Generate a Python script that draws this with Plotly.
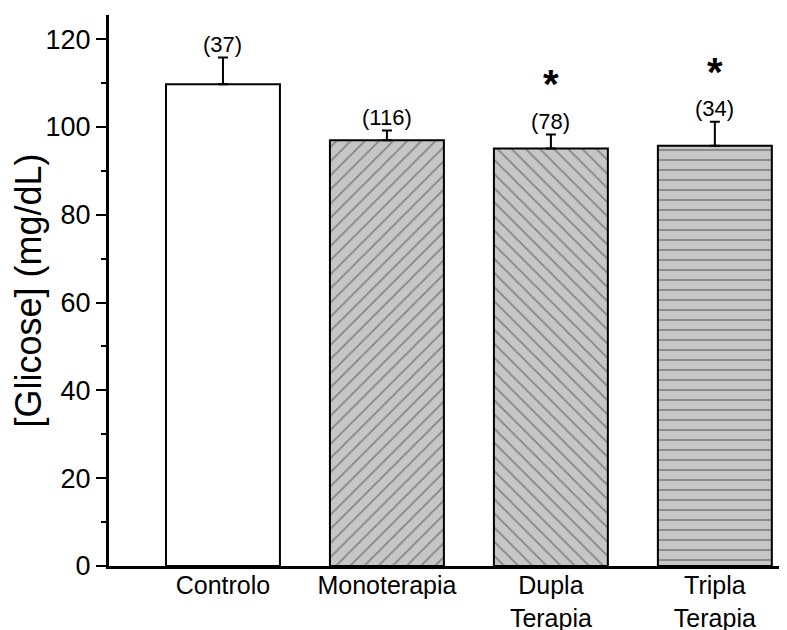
import plotly.graph_objects as go

categories = ["Controlo", "Monoterapia", "Dupla<br>Terapia", "Tripla<br>Terapia"]
means = [109.7, 97.0, 95.1, 95.7]
errors = [6.1, 2.2, 3.2, 5.5]
n_labels = ["(37)", "(116)", "(78)", "(34)"]
significant = [False, False, True, True]
y_ticks = [0, 20, 40, 60, 80, 100, 120]

fills = ["white", "#c6c6c6", "#c6c6c6", "#c6c6c6"]
shapes = ["", "/", "\\", "-"]

FONT = "Arial, 'Liberation Sans', sans-serif"
x = list(range(len(categories)))

fig = go.Figure()
fig.add_trace(go.Bar(
    x=x, y=means, width=0.695,
    marker=dict(color=fills, line=dict(color="black", width=2),
                pattern=dict(shape=shapes, fgcolor="#2a2a2a", bgcolor=fills,
                             size=10, solidity=0.18)),
    error_y=dict(type="data", array=errors, arrayminus=[0]*4, symmetric=False,
                 color="black", thickness=2, width=5),
    showlegend=False,
))

for i, (m, e, t, s) in enumerate(zip(means, errors, n_labels, significant)):
    fig.add_annotation(x=i, y=m + e, text=t, showarrow=False, yanchor="middle",
                       yshift=13, font=dict(family=FONT, size=22, color="black"))
    if s:
        fig.add_annotation(x=i, y=m + e, text="<b>*</b>", showarrow=False,
                           yanchor="middle", yshift=50,
                           font=dict(family=FONT, size=40, color="black"))

# page body has an 8px default margin, so the figure is drawn 8px in from the corner
fig.update_layout(
    width=779, height=622,
    margin=dict(l=101, r=0, t=7, b=64),
    plot_bgcolor="white", paper_bgcolor="white",
    font=dict(family=FONT, color="black"),
)
fig.update_xaxes(range=[-0.695, 3.44], tickvals=x, ticktext=categories,
                 showline=True, linecolor="black", linewidth=3, ticks="",
                 showgrid=False, zeroline=False, automargin=False,
                 ticklabelstandoff=-5,
                 tickfont=dict(family=FONT, size=25, color="black"))
fig.update_yaxes(range=[0, 125.5], tickvals=y_ticks, ticks="outside", ticklen=10,
                 tickwidth=2, tickcolor="black",
                 minor=dict(ticks="outside", ticklen=5, tickwidth=2, tickcolor="black", dtick=10, showgrid=False),
                 showline=True, linecolor="black", linewidth=3,
                 showgrid=False, zeroline=False, automargin=False,
                 tickfont=dict(family=FONT, size=27, color="black"),
                 title=dict(text="[Glicose] (mg/dL)", standoff=2,
                            font=dict(family=FONT, size=36, color="black")))

fig.write_html("out.html")
